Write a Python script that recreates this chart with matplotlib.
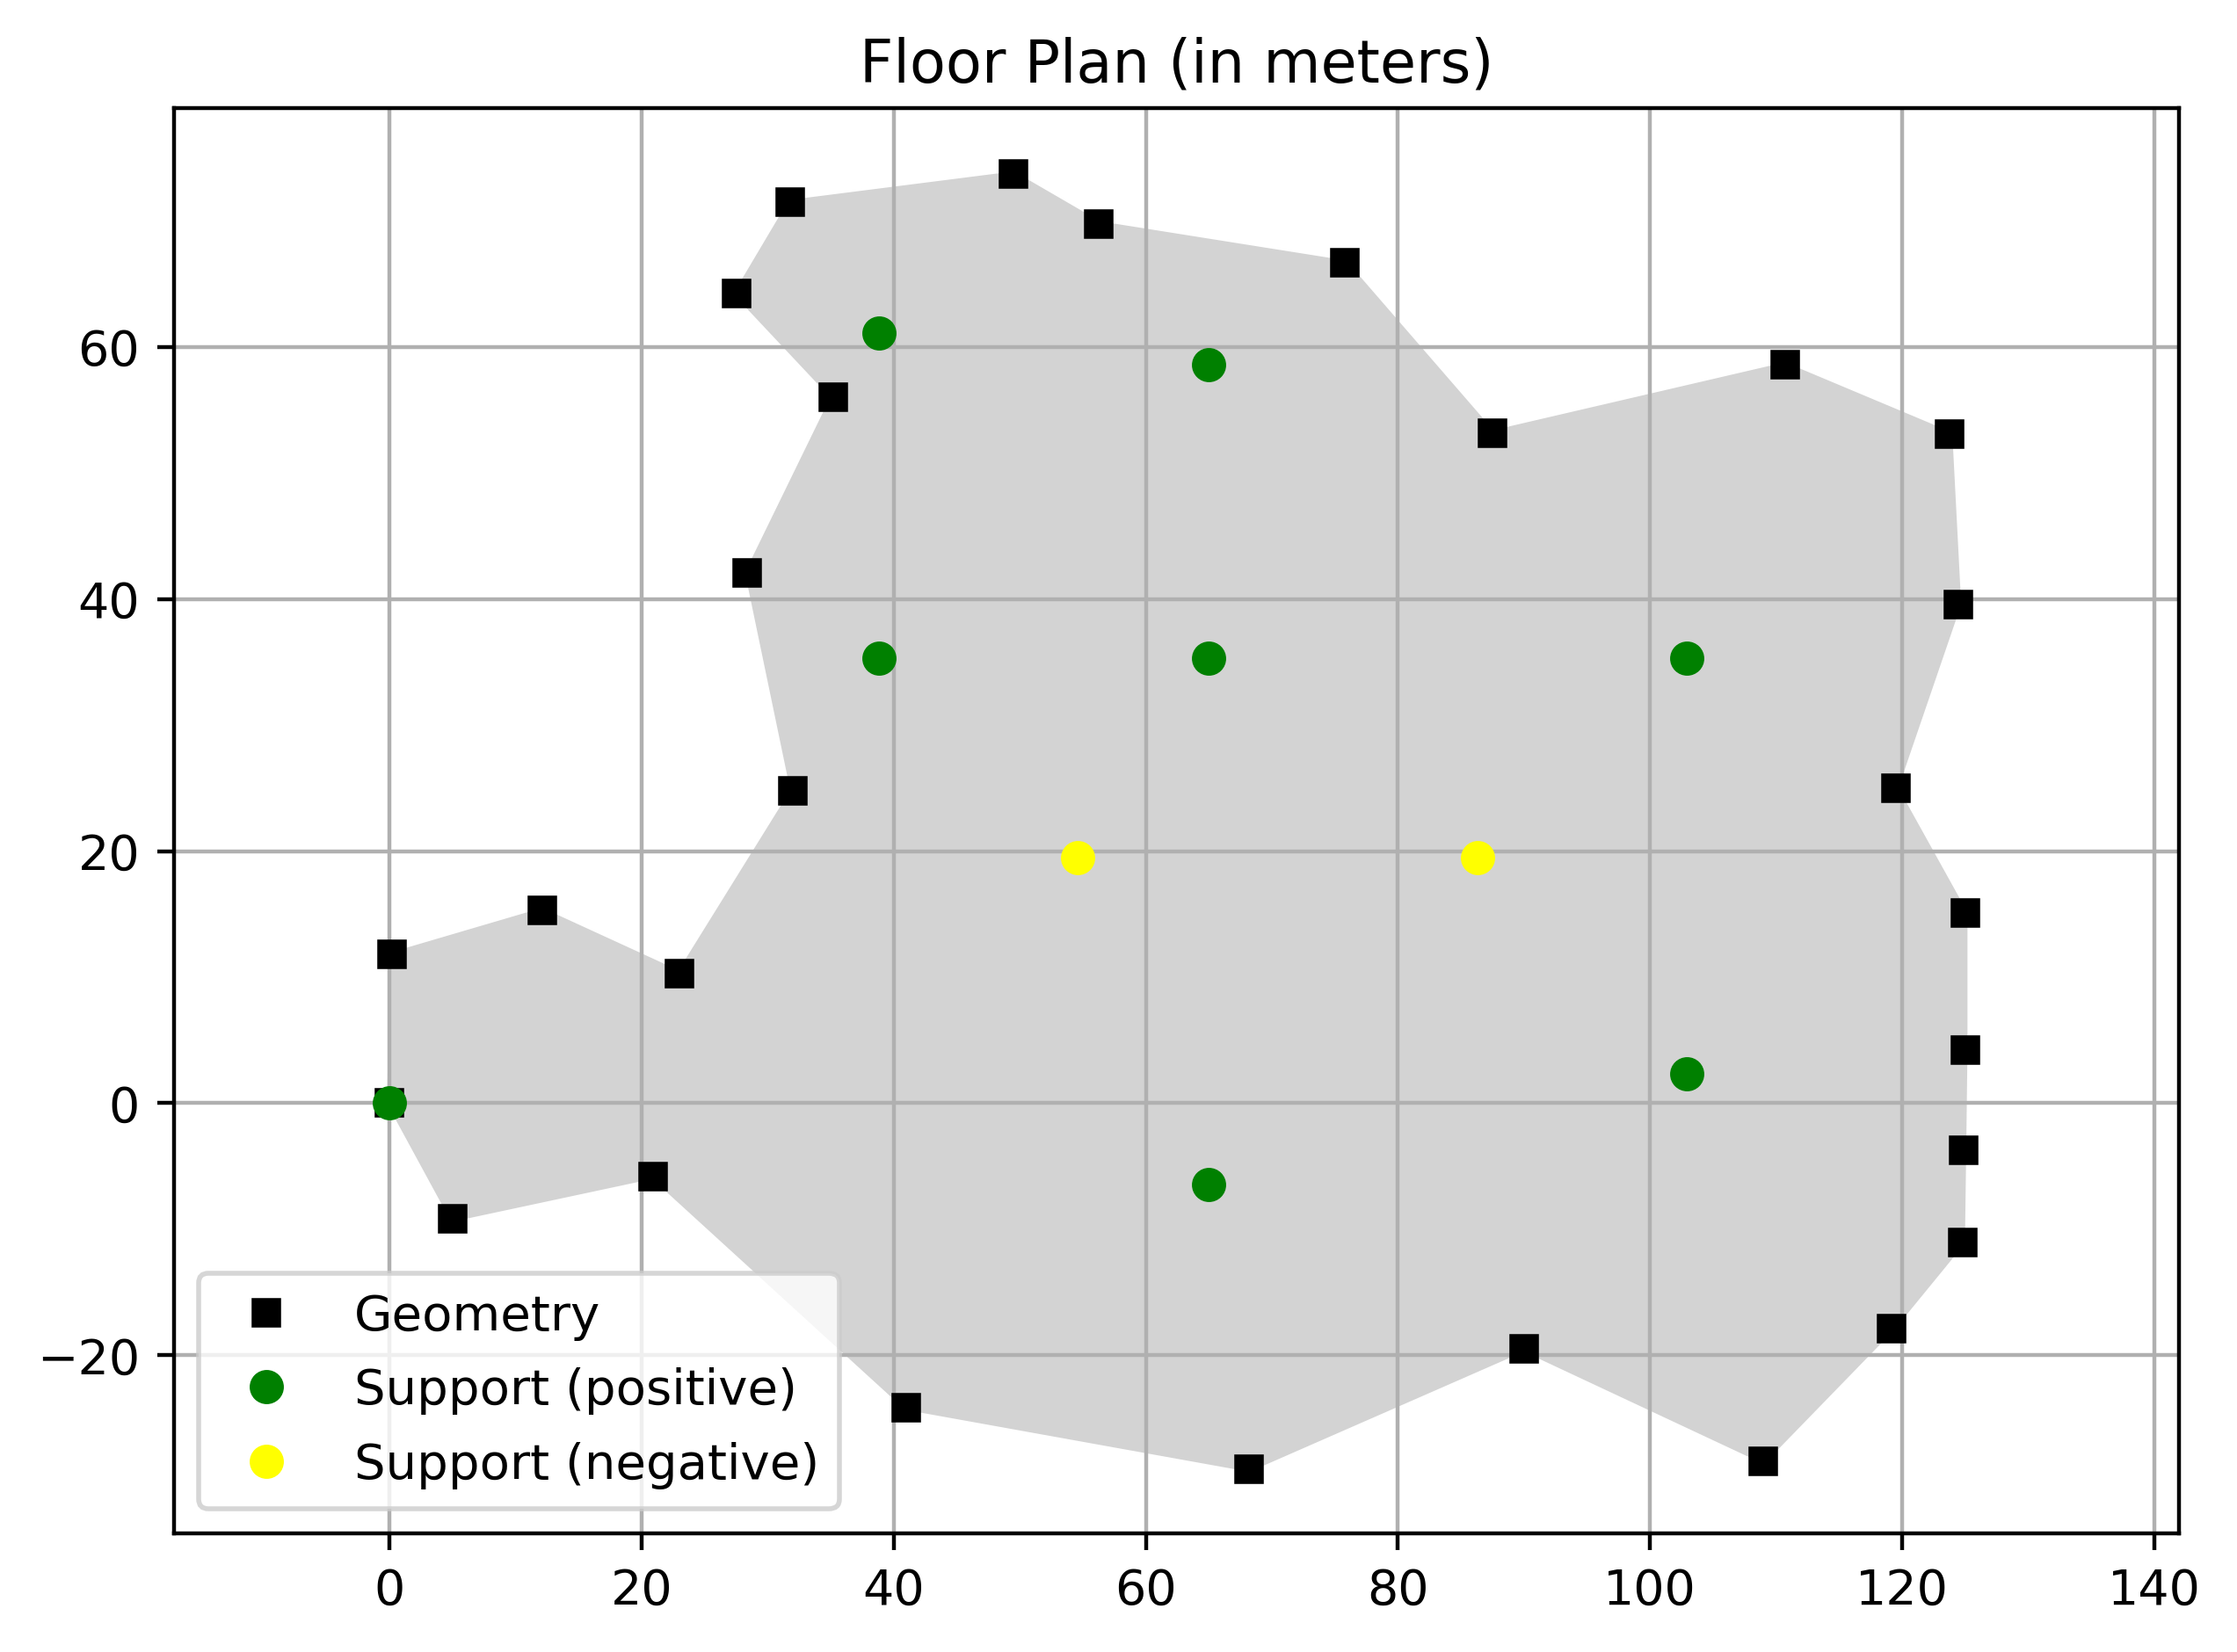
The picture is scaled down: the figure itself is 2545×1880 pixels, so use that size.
import matplotlib
matplotlib.use('Agg')
import matplotlib.pyplot as plt

# floor outline, clockwise from the origin
geom_x = [0, 0.2, 12.1, 23, 32, 28.4, 35.2, 27.5, 31.8, 49.5, 56.3, 75.8, 87.5, 110.7,
          123.8, 124.5, 119.5, 125, 125, 124.9, 124.8, 119.2, 109, 90, 68.2, 41, 20.9, 5]
geom_y = [0, 11.8, 15.3, 10.3, 24.8, 42.1, 56.05, 64.25, 71.5, 73.75, 69.8, 66.7, 53.2, 58.6,
          53.1, 39.6, 25, 15.1, 4.2, -3.7, -11.05, -17.9, -28.4, -19.5, -29.05, -24.15, -5.8, -9.2]

pos_x = [38.8, 65, 38.8, 65, 102.9, 102.9, 65, 0]
pos_y = [61.15, 58.6, 35.35, 35.35, 35.35, 2.35, -6.45, 0]

neg_x = [54.6, 86.3]
neg_y = [19.5, 19.5]

fig = plt.figure(figsize=(6.3625, 4.7), dpi=400)
ax = fig.add_axes([0.0778, 0.0717, 0.8964, 0.8627])

ax.fill(geom_x, geom_y, color='lightgray')
ax.plot(geom_x, geom_y, 's', color='black', markersize=5, label='Geometry')
ax.plot(pos_x, pos_y, 'o', color='green', label='Support (positive)')
ax.plot(neg_x, neg_y, 'o', color='yellow', label='Support (negative)')

ax.set_xlim(-17.1, 142)
ax.set_ylim(-34.15, 78.95)
ax.set_xticks(range(0, 141, 20))
ax.set_yticks(range(-20, 61, 20))
ax.grid(True)
ax.set_title('Floor Plan (in meters)', fontsize=12.05, pad=5.4)
ax.legend(loc='lower left', fontsize=10.1, handlelength=1.95, labelspacing=0.545)

fig.savefig('out.png', dpi=400)
